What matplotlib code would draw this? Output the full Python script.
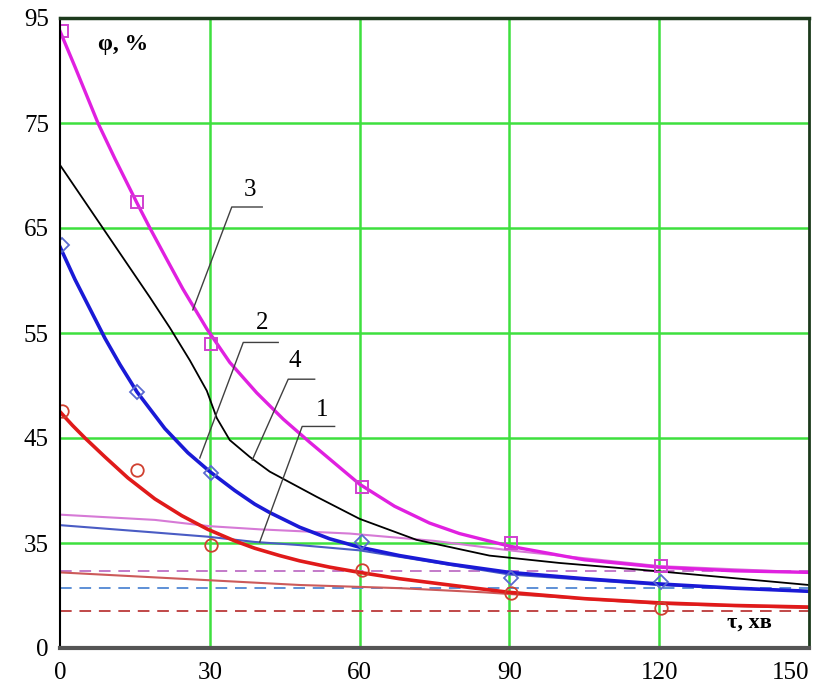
import matplotlib.pyplot as plt
import numpy as np

plt.rcParams['font.family'] = ['Liberation Serif', 'DejaVu Serif']

# broken y axis: values on the axis vs. evenly spaced positions
y_breaks = [25, 35, 45, 55, 65, 75, 95]
y_labels = ['0', '35', '45', '55', '65', '75', '95']
x_ticks = [0, 30, 60, 90, 120, 150]

# curve 3 (magenta)
x3 = [0, 3, 7.6, 11, 15.4, 18, 21.4, 24.6, 29.4, 34, 39.4, 44.7, 50, 55, 60,
      67, 74, 80, 90, 105, 120, 135, 150]
y3 = [92.5, 85.7, 75, 71.6, 67.4, 65.0, 62.0, 59.2, 55.4, 52.2, 49.3, 46.8,
      44.6, 42.6, 40.6, 38.5, 36.9, 35.9, 34.7, 33.4, 32.7, 32.35, 32.2]
# curve 2 (blue)
x2 = [0, 3, 6, 9, 12, 15.4, 21, 25.6, 30, 35, 39, 42, 48, 54, 60, 68, 78, 90,
      105, 120, 135, 150]
y2 = [63.2, 60.1, 57.3, 54.5, 52.0, 49.4, 45.9, 43.6, 41.8, 40.0, 38.7, 37.9,
      36.5, 35.4, 34.6, 33.8, 33.0, 32.2, 31.6, 31.1, 30.7, 30.4]
# curve 1 (red)
x1 = [0, 2.5, 5, 9, 13.6, 19, 24.4, 29.6, 35, 39, 44, 48, 54, 60, 68, 78, 90,
      105, 120, 135, 150]
y1 = [47.5, 46.2, 45.0, 43.2, 41.2, 39.2, 37.6, 36.3, 35.2, 34.5, 33.8, 33.3,
      32.7, 32.2, 31.6, 31.0, 30.3, 29.7, 29.3, 29.05, 28.9]
# curve 4 (black)
x4 = [0, 14, 18, 22, 26, 29.4, 31.4, 34, 38, 42, 51.4, 60, 71.4, 86, 100, 120, 150]
y4 = [71, 61.2, 58.4, 55.5, 52.4, 49.5, 46.9, 44.8, 43.2, 41.8, 39.4, 37.3, 35.3,
      33.8, 33.1, 32.3, 31.0]

# thin model lines
xt3 = [0, 19, 30, 40, 58, 75, 90, 120, 150]
yt3 = [37.7, 37.2, 36.6, 36.3, 35.9, 35.2, 34.3, 32.8, 32.2]
xt2 = [0, 19, 29.6, 39, 48, 60, 90, 120, 150]
yt2 = [36.7, 36.0, 35.6, 35.1, 34.8, 34.3, 32.0, 31.0, 30.4]
xt1 = [0, 28, 48, 68, 85, 120, 150]
yt1 = [32.2, 31.5, 31, 30.7, 30.3, 29.2, 28.8]

# equilibrium levels (dashed)
eq3, eq2, eq1 = 32.3, 30.7, 28.5

# experimental points
xm = [0.5, 15.5, 30.3, 60.4, 90.4, 120.3]
m3 = [92.5, 67.5, 54.0, 40.3, 35.0, 32.8]
m2 = [63.4, 49.4, 41.7, 35.1, 31.7, 31.3]
m1 = [47.6, 42.0, 34.8, 32.4, 30.2, 28.8]

# leader lines: curve point, knee, end of shelf, label position
leaders = {
    '3': ((26.6, 57.2), (34.4, 67.0), 40.5, (38.0, 67.6)),
    '2': ((28.0, 43.1), (36.7, 54.1), 43.7, (40.5, 54.9)),
    '4': ((38.5, 42.9), (45.7, 50.6), 51.0, (47.0, 51.3)),
    '1': ((40.0, 35.1), (48.5, 46.1), 55.0, (52.5, 46.6)),
}

pos = np.arange(len(y_breaks))


def fwd(v):
    return np.interp(v, y_breaks, pos)


def inv(p):
    return np.interp(p, pos, y_breaks)


fig = plt.figure(figsize=(8.18, 6.88), dpi=100)
ax = fig.add_axes([60 / 818, 40 / 688, 749 / 818, 630 / 688])
ax.set_yscale('function', functions=(fwd, inv))
ax.set_xlim(0, 150)
ax.set_ylim(25, 95)

for gx in x_ticks[1:-1]:
    ax.axvline(gx, color='#3ee03e', lw=1.8, zorder=0)
for gy in y_breaks[1:-1]:
    ax.axhline(gy, color='#3ee03e', lw=1.8, zorder=0)

ax.axhline(eq3, color='#c37ac9', lw=1.4, ls=(0, (6, 4)))
ax.axhline(eq2, color='#5d8fd6', lw=1.4, ls=(0, (6, 4)))
ax.axhline(eq1, color='#c04848', lw=1.4, ls=(0, (6, 4)))

ax.plot(xt3, yt3, color='#d67ad6', lw=1.5)
ax.plot(xt2, yt2, color='#4a5cc4', lw=1.5)
ax.plot(xt1, yt1, color='#cc5a5a', lw=1.5)

ax.plot(x3, y3, color='#e020e0', lw=2.4)
ax.plot(x2, y2, color='#1a1ad6', lw=2.6)
ax.plot(x1, y1, color='#e01a1a', lw=2.6)
ax.plot(x4, y4, color='black', lw=1.3)

ax.plot(xm, m3, ls='none', marker='s', ms=9, mfc='none', mec='#d040d0', mew=1.4)
ax.plot(xm, m2, ls='none', marker='D', ms=7, mfc='none', mec='#5a6ad0', mew=1.3)
ax.plot(xm, m1, ls='none', marker='o', ms=9, mfc='none', mec='#d04030', mew=1.3)

for lab, (p0, p1, xe, pt) in leaders.items():
    ax.plot([p0[0], p1[0], xe], [p0[1], p1[1], p1[1]], color='#404040', lw=1.0)
    ax.text(pt[0], pt[1], lab, fontsize=18, ha='center', va='bottom')

ax.text(0.051, 0.958, 'φ, %', transform=ax.transAxes, fontsize=17,
        fontweight='bold', ha='left', va='center')
ax.text(0.921, 0.041, 'τ, хв', transform=ax.transAxes, fontsize=16,
        fontweight='bold', ha='center', va='center')

ax.set_xticks(x_ticks)
ax.set_yticks(y_breaks)
ax.set_yticklabels(y_labels)
ax.tick_params(length=0, labelsize=18, pad=8)
ax.tick_params(axis='x', pad=10)
ax.minorticks_off()
xlabs = ax.get_xticklabels()
xlabs[-1].set_horizontalalignment('right')

ax.spines['left'].set_color('black')
ax.spines['left'].set_linewidth(1.5)
ax.spines['bottom'].set_color('#555555')
ax.spines['bottom'].set_linewidth(3)
ax.spines['top'].set_color('#1c3a1c')
ax.spines['top'].set_linewidth(2.5)
ax.spines['right'].set_color('#1c3a1c')
ax.spines['right'].set_linewidth(2)

fig.savefig('out.png', dpi=100)
